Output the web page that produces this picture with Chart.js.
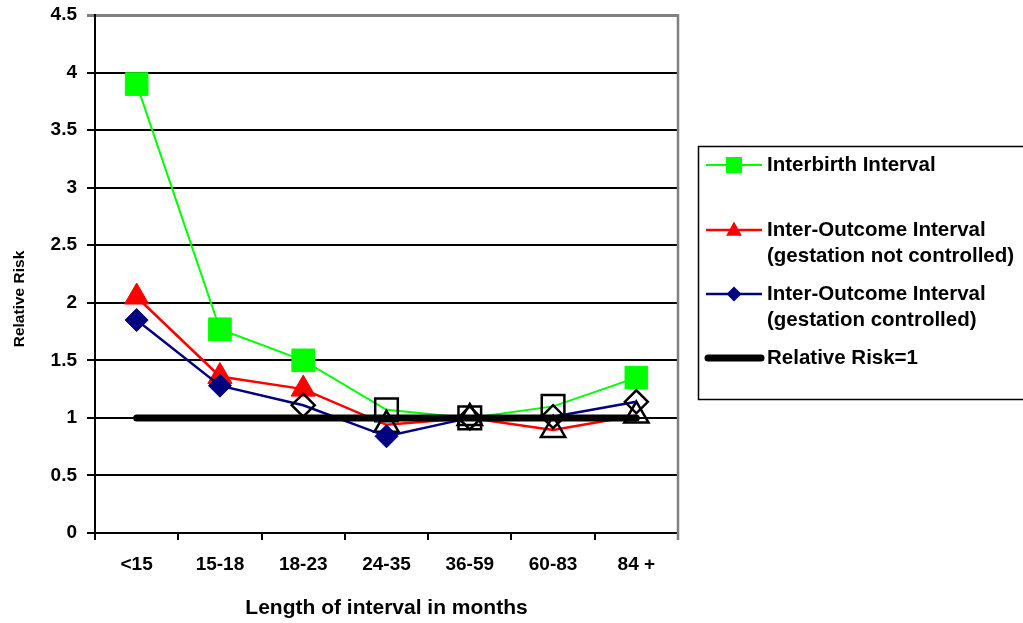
<!DOCTYPE html>
<html>
<head>
<meta charset="utf-8">
<title>Relative risk by interval length</title>
<script src="https://cdn.jsdelivr.net/npm/chart.js@4/dist/chart.umd.min.js"></script>
<style>
  html, body { margin: 0; padding: 0; background: #fff; overflow: hidden; }
  #wrap { width: 1023px; height: 623px; }
</style>
</head>
<body>
<div id="wrap"><canvas id="chart" width="1023" height="623"></canvas></div>
<script>
// Interval categories (months)
const categories = ['<15', '15-18', '18-23', '24-35', '36-59', '60-83', '84 +'];

// Relative risk per interval
const interbirth           = [3.90, 1.77, 1.50, 1.07, 1.00, 1.10, 1.35];
const outcomeNotControlled = [2.05, 1.36, 1.25, 0.94, 1.00, 0.895, 1.02];
const outcomeControlled    = [1.85, 1.28, 1.11, 0.84, 1.00, 1.01, 1.14];
const referenceRisk        = [1, 1, 1, 1, 1, 1, 1];

// Estimates not different from the reference (shown as open black markers)
const interbirthOpen           = [false, false, false, true, true, true, false];
const outcomeNotControlledOpen = [false, false, false, true, true, true, true];
const outcomeControlledOpen    = [false, false, true, false, true, true, true];

// Y axis range and title
const yMin = 0, yMax = 4.5, yStep = 0.5;
const yTitle = 'Relative Risk';

const SANS = "'Liberation Sans', Arial, sans-serif";

function markerStyle(color, open) {
  return {
    pointBackgroundColor: open.map(o => (o ? 'rgba(0,0,0,0)' : color)),
    pointBorderColor: open.map(o => (o ? '#000000' : color)),
    pointBorderWidth: open.map(o => (o ? 2.5 : 1))
  };
}

// Small marker shapes for the legend samples
function drawShape(ctx, shape, x, y, s) {
  ctx.beginPath();
  if (shape === 'rect') {
    ctx.rect(x - s, y - s, 2 * s, 2 * s);
  } else if (shape === 'triangle') {
    ctx.moveTo(x, y - s * 1.15);
    ctx.lineTo(x + s * 1.05, y + s * 0.75);
    ctx.lineTo(x - s * 1.05, y + s * 0.75);
    ctx.closePath();
  } else if (shape === 'rectRot') {
    ctx.moveTo(x, y - s);
    ctx.lineTo(x + s, y);
    ctx.lineTo(x, y + s);
    ctx.lineTo(x - s, y);
    ctx.closePath();
  }
  ctx.fill();
}

// Boxed legend at the right, built from the dataset labels and colours
const boxedLegend = {
  id: 'boxedLegend',
  afterDraw(chart) {
    const ctx = chart.ctx;
    ctx.save();
    ctx.strokeStyle = '#000';
    ctx.lineWidth = 1.5;
    ctx.strokeRect(698.5, 146.5, 400, 253);

    const rows = [
      { index: 0, y: [165] },
      { index: 1, y: [230, 256] },
      { index: 2, y: [294, 320] },
      { index: 3, y: [358] }
    ];
    const sizes = { rect: 8, triangle: 7.5, rectRot: 7.5 };
    rows.forEach(row => {
      const ds = chart.data.datasets[row.index];
      const yM = row.y[0];
      ctx.strokeStyle = ds.borderColor;
      ctx.lineWidth = ds.borderWidth;
      ctx.lineCap = ds.borderCapStyle || 'butt';
      ctx.beginPath();
      if (ds.borderWidth > 4) {
        ctx.moveTo(708, yM);
        ctx.lineTo(761, yM);
      } else {
        ctx.moveTo(706, yM);
        ctx.lineTo(762, yM);
      }
      ctx.stroke();
      if (ds.pointRadius > 0) {
        ctx.fillStyle = ds.borderColor;
        drawShape(ctx, ds.pointStyle, 734, yM, sizes[ds.pointStyle]);
      }
      ctx.fillStyle = '#000';
      ctx.font = "bold 20.5px " + SANS;
      ctx.textBaseline = 'middle';
      ctx.textAlign = 'left';
      ds.label.split('\n').forEach((line, i) => ctx.fillText(line, 767, row.y[i]));
    });
    ctx.restore();
  }
};

// Grey frame on the right edge of the plot area and the rotated y title
const plotFrame = {
  id: 'plotFrame',
  beforeDatasetsDraw(chart) {
    const { ctx, chartArea } = chart;
    ctx.save();
    ctx.strokeStyle = '#808080';
    ctx.lineWidth = 2.5;
    ctx.beginPath();
    ctx.moveTo(chartArea.right, chartArea.top - 1);
    ctx.lineTo(chartArea.right, chartArea.bottom + 7);
    ctx.stroke();

    ctx.translate(20, 299);
    ctx.rotate(-Math.PI / 2);
    ctx.fillStyle = '#000';
    ctx.font = 'bold 15.5px ' + SANS;
    ctx.textAlign = 'center';
    ctx.textBaseline = 'middle';
    ctx.fillText(yTitle, 0, 0);
    ctx.restore();
  }
};

new Chart(document.getElementById('chart'), {
  type: 'line',
  data: {
    labels: categories,
    datasets: [
      Object.assign({
        label: 'Interbirth Interval',
        data: interbirth,
        borderColor: '#00ff00',
        borderWidth: 2,
        pointStyle: 'rect',
        pointRadius: 16,
        order: 3
      }, markerStyle('#00ff00', interbirthOpen)),
      Object.assign({
        label: 'Inter-Outcome Interval\n(gestation not controlled)',
        data: outcomeNotControlled,
        borderColor: '#ff0000',
        borderWidth: 2.5,
        pointStyle: 'triangle',
        pointRadius: 14,
        order: 2
      }, markerStyle('#ff0000', outcomeNotControlledOpen)),
      Object.assign({
        label: 'Inter-Outcome Interval\n(gestation controlled)',
        data: outcomeControlled,
        borderColor: '#000080',
        borderWidth: 2.5,
        pointStyle: 'rectRot',
        pointRadius: 11.5,
        order: 1
      }, markerStyle('#000080', outcomeControlledOpen)),
      {
        label: 'Relative Risk=1',
        data: referenceRisk,
        borderColor: '#000000',
        borderWidth: 7,
        borderCapStyle: 'round',
        pointRadius: 0,
        order: 0
      }
    ]
  },
  options: {
    responsive: false,
    animation: false,
    devicePixelRatio: 1,
    layout: { autoPadding: false, padding: { top: 15, right: 345, left: 0, bottom: 0 } },
    elements: { line: { tension: 0, fill: false } },
    plugins: {
      legend: { display: false },
      tooltip: { enabled: false }
    },
    scales: {
      x: {
        type: 'category',
        offset: true,
        afterFit(scale) { scale.height = 90; scale.paddingLeft = 0; scale.paddingRight = 0; },
        grid: {
          offset: true,
          drawOnChartArea: false,
          color: '#000',
          lineWidth: 2,
          tickLength: 7
        },
        border: { display: true, color: '#000', width: 2 },
        ticks: {
          color: '#000',
          padding: 13.5,
          maxRotation: 0,
          font: { family: SANS, size: 19, weight: 'bold' }
        },
        title: {
          display: true,
          text: 'Length of interval in months',
          color: '#000',
          font: { family: SANS, size: 21, weight: 'bold' },
          padding: { top: 0, bottom: 2 }
        }
      },
      y: {
        min: yMin,
        max: yMax,
        afterFit(scale) { scale.width = 95; scale.paddingTop = 0; scale.paddingBottom = 0; },
        grid: {
          color: ctx => (ctx.tick && ctx.tick.value === yMax ? '#808080' : '#000'),
          lineWidth: ctx => (ctx.tick && ctx.tick.value === yMax ? 3 : 2),
          tickLength: 8
        },
        border: { display: true, color: '#000', width: 2 },
        ticks: {
          stepSize: yStep,
          color: '#000',
          padding: 10,
          callback: value => String(Number(value.toFixed(1))),
          font: { family: SANS, size: 19, weight: 'bold' }
        }
      }
    }
  },
  plugins: [plotFrame, boxedLegend]
});
</script>
</body>
</html>
